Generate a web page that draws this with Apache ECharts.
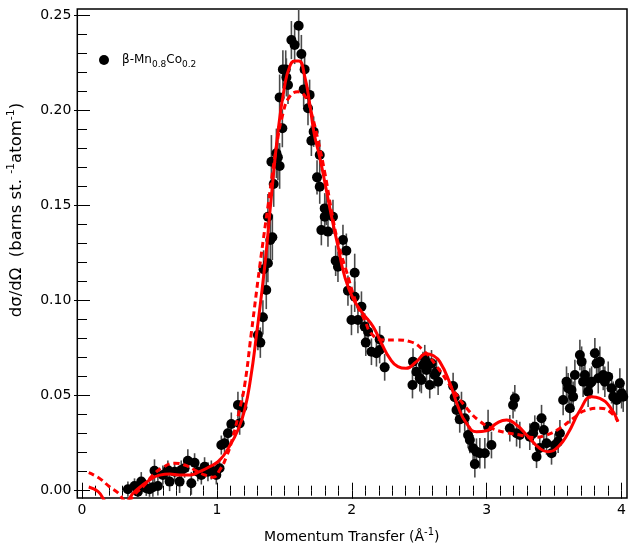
<!DOCTYPE html>
<html><head><meta charset="utf-8">
<script src="https://cdn.jsdelivr.net/npm/echarts@6/dist/echarts.min.js"></script>
<style>html,body{margin:0;padding:0;background:#fff}#c{width:629px;height:549px}</style>
</head><body><div id="c"></div>
<script>
// ---- data ----
const qData = [0.340,0.389,0.414,0.439,0.476,0.500,0.525,0.537,0.562,0.599,0.636,0.649,0.686,0.723,0.735,0.760,0.784,0.810,0.834,0.858,0.884,0.908,0.933,0.958,0.995,1.019,1.032,1.056,1.081,1.106,1.155,1.168,1.188,1.303,1.321,1.340,1.345,1.365,1.377,1.377,1.395,1.403,1.410,1.420,1.440,1.451,1.464,1.464,1.484,1.488,1.509,1.514,1.526,1.551,1.575,1.605,1.625,1.642,1.649,1.674,1.686,1.699,1.716,1.741,1.761,1.761,1.773,1.798,1.798,1.810,1.822,1.859,1.879,1.896,1.933,1.958,1.970,1.996,2.020,2.020,2.044,2.070,2.094,2.102,2.119,2.144,2.181,2.205,2.205,2.242,2.448,2.452,2.477,2.502,2.514,2.526,2.539,2.552,2.576,2.589,2.613,2.626,2.638,2.749,2.761,2.774,2.798,2.811,2.835,2.860,2.873,2.897,2.910,2.922,2.947,2.984,3.008,3.033,3.169,3.193,3.206,3.219,3.243,3.317,3.342,3.354,3.367,3.391,3.404,3.421,3.441,3.478,3.503,3.527,3.540,3.564,3.589,3.601,3.614,3.626,3.638,3.651,3.688,3.701,3.712,3.725,3.749,3.762,3.775,3.799,3.812,3.824,3.836,3.861,3.873,3.898,3.923,3.935,3.960,3.984,3.997,4.009];
const yData = [0.0013,0.0030,0.0000,0.0053,0.0018,0.0013,0.0023,0.0110,0.0030,0.0088,0.0114,0.0053,0.0105,0.0053,0.0114,0.0123,0.0163,0.0044,0.0152,0.0105,0.0088,0.0131,0.0105,0.0114,0.0088,0.0123,0.0245,0.0254,0.0307,0.0356,0.0455,0.0359,0.0443,0.0823,0.0783,0.0916,0.1168,0.1059,0.1200,0.1444,0.1322,0.1733,0.1336,0.1616,0.1777,0.1756,0.1711,0.2071,0.1909,0.2218,0.2218,0.2176,0.2136,0.2372,0.2346,0.2447,0.2299,0.2113,0.2218,0.2014,0.2084,0.1843,0.1891,0.1651,0.1768,0.1602,0.1374,0.1488,0.1444,0.1480,0.1366,0.1444,0.1213,0.1182,0.1322,0.1266,0.1056,0.0902,0.1150,0.1024,0.0902,0.0972,0.0867,0.0783,0.0840,0.0735,0.0727,0.0800,0.0744,0.0653,0.0560,0.0683,0.0630,0.0596,0.0587,0.0665,0.0701,0.0639,0.0560,0.0674,0.0613,0.0630,0.0578,0.0555,0.0496,0.0429,0.0380,0.0455,0.0386,0.0298,0.0272,0.0228,0.0145,0.0210,0.0202,0.0202,0.0341,0.0245,0.0333,0.0455,0.0491,0.0307,0.0298,0.0289,0.0307,0.0341,0.0184,0.0230,0.0386,0.0324,0.0254,0.0202,0.0245,0.0263,0.0307,0.0482,0.0578,0.0543,0.0438,0.0534,0.0499,0.0613,0.0718,0.0683,0.0578,0.0613,0.0525,0.0569,0.0578,0.0727,0.0674,0.0596,0.0683,0.0613,0.0578,0.0604,0.0543,0.0499,0.0482,0.0569,0.0517,0.0499];
const errData = [0.004,0.004,0.004,0.005,0.004,0.004,0.005,0.006,0.005,0.005,0.005,0.005,0.005,0.006,0.005,0.005,0.006,0.006,0.005,0.005,0.005,0.005,0.005,0.005,0.005,0.005,0.005,0.006,0.006,0.006,0.007,0.006,0.007,0.008,0.008,0.009,0.010,0.010,0.010,0.012,0.012,0.014,0.012,0.012,0.013,0.012,0.012,0.012,0.010,0.010,0.010,0.010,0.010,0.010,0.010,0.010,0.010,0.009,0.009,0.009,0.008,0.008,0.008,0.009,0.008,0.009,0.008,0.008,0.008,0.008,0.008,0.009,0.008,0.008,0.008,0.009,0.008,0.008,0.010,0.008,0.007,0.008,0.007,0.007,0.007,0.007,0.007,0.007,0.007,0.007,0.007,0.007,0.007,0.007,0.007,0.007,0.007,0.007,0.007,0.007,0.007,0.007,0.007,0.007,0.007,0.007,0.007,0.007,0.007,0.007,0.007,0.007,0.007,0.007,0.008,0.008,0.009,0.007,0.007,0.007,0.007,0.007,0.007,0.007,0.006,0.006,0.006,0.006,0.007,0.006,0.006,0.006,0.006,0.006,0.007,0.008,0.008,0.008,0.008,0.008,0.008,0.008,0.008,0.008,0.008,0.008,0.008,0.008,0.008,0.008,0.008,0.008,0.008,0.008,0.008,0.008,0.008,0.008,0.008,0.008,0.008,0.008];
const fitSolidQ = [0.05,0.12,0.20,0.30,0.39,0.50,0.575,0.65,0.72,0.80,0.87,0.945,1.02,1.09,1.155,1.205,1.25,1.29,1.353,1.40,1.45,1.50,1.538,1.575,1.607,1.65,1.686,1.72,1.76,1.80,1.847,1.896,1.946,2.007,2.08,2.156,2.218,2.28,2.34,2.40,2.477,2.55,2.60,2.65,2.725,2.786,2.848,2.922,2.996,3.07,3.145,3.22,3.305,3.39,3.45,3.527,3.60,3.69,3.775,3.836,3.91,3.97];
const fitSolidY = [0.0025,0.0,-0.006,-0.006,0.0,0.0061,0.0087,0.0093,0.0088,0.0088,0.0105,0.0131,0.0166,0.0236,0.0324,0.0430,0.0600,0.0810,0.118,0.153,0.188,0.2127,0.2232,0.2262,0.2262,0.218,0.204,0.188,0.176,0.162,0.145,0.129,0.113,0.1016,0.0937,0.0867,0.078,0.070,0.0657,0.0648,0.0683,0.0725,0.0715,0.0683,0.057,0.0446,0.0359,0.0315,0.032,0.0359,0.0377,0.035,0.0289,0.0228,0.021,0.0236,0.0307,0.0429,0.0499,0.049,0.0446,0.0368];
const fitDashQ = [0.05,0.13,0.204,0.265,0.33,0.40,0.463,0.525,0.60,0.686,0.76,0.834,0.908,0.97,1.02,1.07,1.118,1.167,1.205,1.254,1.316,1.377,1.44,1.489,1.538,1.60,1.662,1.70,1.748,1.80,1.847,1.896,1.958,2.033,2.095,2.144,2.23,2.33,2.43,2.526,2.626,2.75,2.848,2.947,3.045,3.145,3.243,3.34,3.44,3.54,3.64,3.737,3.836,3.91,3.97];
const fitDashY = [0.0100,0.0070,0.0026,-0.0005,-0.005,-0.0007,0.0035,0.0087,0.0128,0.0149,0.014,0.0114,0.0088,0.0076,0.0114,0.0184,0.0289,0.0430,0.0560,0.0832,0.118,0.1497,0.181,0.1987,0.2075,0.210,0.2066,0.1987,0.1847,0.167,0.148,0.131,0.116,0.099,0.090,0.083,0.0797,0.0797,0.0788,0.0744,0.0660,0.0534,0.0440,0.0370,0.0330,0.0310,0.0298,0.0285,0.0298,0.0333,0.0386,0.0429,0.0438,0.042,0.0368];
const xTickLabels = ['0','1','2','3','4'];
const yTickLabels = ['0.00','0.05','0.10','0.15','0.20','0.25'];

// ---- layout (pixels) ----
const FONT = 'DejaVu Sans';
const frame = {l: 77.3, t: 9, r: 627, b: 498};
const box = {l: 82, t: 15.7, r: 622, b: 491.7};   // where x=0..4, y=0..0.25 fall
const pxPerX = (box.r - box.l) / 4, pxPerY = (box.b - box.t) / 0.25;
const xMin = -(box.l - frame.l) / pxPerX, xMax = 4 + (frame.r - box.r) / pxPerX;
const yMin = -(frame.b - box.b) / pxPerY, yMax = 0.25 + (box.t - frame.t) / pxPerY;

const rich = {
  n: {fontFamily: FONT, fontSize: 14, lineHeight: 20, color: '#000'},
  sup: {fontFamily: FONT, fontSize: 10, lineHeight: 11, verticalAlign: 'top', color: '#000'},
  yn: {fontFamily: FONT, fontSize: 16.5, lineHeight: 22, color: '#000'},
  ysup: {fontFamily: FONT, fontSize: 11, lineHeight: 12, verticalAlign: 'top', color: '#000'},
  ln: {fontFamily: FONT, fontSize: 12, lineHeight: 18, color: '#000'},
  sub: {fontFamily: FONT, fontSize: 9, lineHeight: 9, verticalAlign: 'bottom', color: '#000'}
};

const tickAxisCommon = {
  type: 'value', gridIndex: 1,
  axisLine: {show: false},
  axisTick: {show: true, inside: true, length: 8, lineStyle: {color: '#000', width: 1}},
  minorTick: {show: true, length: 5, lineStyle: {color: '#000', width: 1}},
  splitLine: {show: false},
  axisLabel: {show: false}
};

const chart = echarts.init(document.getElementById('c'), null, {renderer: 'canvas'});
chart.setOption({
  animation: false,
  backgroundColor: '#fff',
  grid: [
    {left: frame.l, top: frame.t, width: frame.r - frame.l, height: frame.b - frame.t,
     show: true, borderColor: '#000', borderWidth: 1.5, backgroundColor: 'transparent', containLabel: false},
    {left: box.l, top: box.t, width: box.r - box.l, height: box.b - box.t, show: false, containLabel: false}
  ],
  xAxis: [
    {type: 'value', gridIndex: 0, min: xMin, max: xMax, show: false},
    Object.assign({}, tickAxisCommon, {
      position: 'bottom', offset: frame.b - box.b, min: 0, max: 4, interval: 1,
      minorTick: Object.assign({}, tickAxisCommon.minorTick, {splitNumber: 10}),
      axisLabel: {show: true, margin: 6, color: '#000', fontFamily: FONT, fontSize: 14,
        formatter: (v) => xTickLabels[Math.round(v)]},
      name: '{n|Momentum Transfer (Å}{sup|-1}{n|)}', nameLocation: 'middle', nameGap: 30,
      nameTextStyle: {rich: rich}
    }),
    Object.assign({}, tickAxisCommon, {
      position: 'top', offset: box.t - frame.t, min: 0, max: 4, interval: 1,
      minorTick: Object.assign({}, tickAxisCommon.minorTick, {splitNumber: 10})
    })
  ],
  yAxis: [
    {type: 'value', gridIndex: 0, min: yMin, max: yMax, show: false},
    Object.assign({}, tickAxisCommon, {
      position: 'left', offset: box.l - frame.l, min: 0, max: 0.25, interval: 0.05,
      minorTick: Object.assign({}, tickAxisCommon.minorTick, {splitNumber: 5}),
      axisLabel: {show: true, margin: 6, color: '#000', fontFamily: FONT, fontSize: 14,
        formatter: (v) => yTickLabels[Math.round(v / 0.05)]}
    }),
    Object.assign({}, tickAxisCommon, {
      position: 'right', offset: frame.r - box.r, min: 0, max: 0.25, interval: 0.05,
      minorTick: Object.assign({}, tickAxisCommon.minorTick, {splitNumber: 5})
    })
  ],
  series: [
    {
      type: 'custom', xAxisIndex: 0, yAxisIndex: 0, z: 2, clip: true,
      data: qData.map((q, i) => [q, yData[i] - errData[i], yData[i] + errData[i]]),
      encode: {x: 0, y: [1, 2]},
      renderItem: (params, api) => {
        const a = api.coord([api.value(0), api.value(1)]);
        const b = api.coord([api.value(0), api.value(2)]);
        return {type: 'line', shape: {x1: a[0], y1: a[1], x2: b[0], y2: b[1]},
                style: {stroke: '#4a4a4a', lineWidth: 1.6}};
      }
    },
    {
      type: 'scatter', xAxisIndex: 0, yAxisIndex: 0, z: 3,
      data: qData.map((q, i) => [q, yData[i]]),
      symbol: 'circle', symbolSize: 10, itemStyle: {color: '#000', opacity: 1}
    },
    {
      type: 'line', xAxisIndex: 0, yAxisIndex: 0, z: 5, clip: true,
      data: fitDashQ.map((q, i) => [q, fitDashY[i]]),
      smooth: true, showSymbol: false, symbol: 'none',
      lineStyle: {color: '#ff0000', width: 3, type: [6, 4]}
    },
    {
      type: 'line', xAxisIndex: 0, yAxisIndex: 0, z: 6, clip: true,
      data: fitSolidQ.map((q, i) => [q, fitSolidY[i]]),
      smooth: true, showSymbol: false, symbol: 'none',
      lineStyle: {color: '#ff0000', width: 3, type: 'solid'}
    }
  ],
  graphic: [
    {type: 'circle', shape: {cx: 104, cy: 60, r: 5}, style: {fill: '#000'}, z: 10},
    {type: 'text', x: 122, y: 60, z: 10,
     style: {text: '{ln|β-Mn}{sub|0.8}{ln|Co}{sub|0.2}', rich: rich, verticalAlign: 'middle', align: 'left'}},
    {type: 'text', x: 17, y: 210, rotation: Math.PI / 2, z: 10,
     style: {text: '{yn|dσ/dΩ  (barns st. }{ysup|-1}{yn|atom}{ysup|-1}{yn|)}', rich: rich, align: 'center', verticalAlign: 'middle'}}
  ]
});
</script>
</body></html>
